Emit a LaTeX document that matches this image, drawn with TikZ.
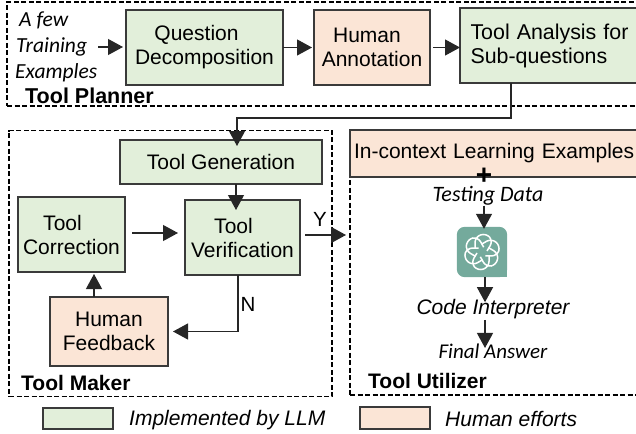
\documentclass[tikz,border=0pt]{standalone}
\usepackage{fontspec}
\setmainfont{Liberation Sans}
\newfontfamily\calib{Carlito}
\usetikzlibrary{arrows.meta}
\definecolor{llmgreen}{HTML}{E2EFDA}
\definecolor{humanorange}{HTML}{FBE5D6}
\definecolor{edgegray}{HTML}{3A3A3A}
\definecolor{logogreen}{HTML}{74AA9C}
\tikzset{
  base/.style={inner sep=0pt,outer sep=0pt,font=\fontsize{21}{24}\selectfont,align=center},
  llm/.style={base,draw=edgegray,fill=llmgreen,line width=1.2pt},
  human/.style={base,draw=edgegray,fill=humanorange,line width=1.2pt},
  region/.style={draw=black,line width=1.4pt,dash pattern=on 5pt off 2.5pt,inner sep=0pt},
  heading/.style={inner sep=0pt,font=\fontsize{21}{24}\selectfont\bfseries},
  hand/.style={inner sep=0pt,font=\calib\fontsize{21.5}{24}\selectfont\itshape},
  slant/.style={inner sep=0pt,font=\fontsize{21}{24}\selectfont\itshape},
  plain/.style={inner sep=0pt,font=\fontsize{20.5}{24}\selectfont},
  arr/.style={draw=black!85,line width=1.2pt,-{Triangle[length=15pt,width=16pt]}},
}
\begin{document}
\begin{tikzpicture}[x=1pt,y=-1pt]
\useasboundingbox (0,0) rectangle (636,433);
% regions
\node[region,minimum width=640pt,minimum height=104pt] (planner) at (327,54) {};
\node[region,minimum width=323pt,minimum height=266pt] (maker) at (170.5,263.5) {};
\node[region,minimum width=300pt,minimum height=265pt] (utilizer) at (500,262.5) {};
% boxes
\node[llm,minimum width=157pt,minimum height=75pt] (q) at (204.5,47.5) {\mbox{Question\kern16pt}\\Decomposition};
\node[human,minimum width=116pt,minimum height=75pt] (h) at (372,47.5) {\mbox{Human\kern10pt}\\Annotation};
\node[llm,minimum width=184pt,minimum height=75pt,align=left,text width=163pt] (ana) at (552,45.5) {\fontsize{21.4}{24}\selectfont Tool Analysis for\\Sub-questions};
\node[llm,minimum width=202pt,minimum height=44pt] (gen) at (221,162) {Tool Generation};
\node[llm,minimum width=107pt,minimum height=75pt] (corr) at (71.5,234.5) {\mbox{Tool\kern18pt}\\Correction};
\node[llm,minimum width=115pt,minimum height=75pt] (ver) at (242.5,237.5) {\mbox{Tool\kern18pt}\\Verification};
\node[human,minimum width=118pt,minimum height=69pt] (fb) at (109,331.5) {Human\\Feedback};
\node[human,minimum width=292pt,minimum height=47pt,align=left,text width=284pt] (ctx) at (496,153.5) {In-context Learning Examples};
% plain texts
\node[hand,anchor=west] (few) at (19,20) {A few};
\node[hand,anchor=west] (train) at (16,47) {Training};
\node[hand,anchor=west] (ex) at (15,73) {Examples};
\node[heading,anchor=west] (lp) at (25,96) {\fontsize{21.5}{24}\selectfont Tool Planner};
\node[heading,anchor=west] (lm) at (21,383) {Tool Maker};
\node[heading,anchor=west] (lu) at (368,381) {Tool Utilizer};
\node[hand,font=\calib\fontsize{22}{24}\selectfont\itshape] (test) at (488,196) {Testing Data};
\node[slant] (code) at (493,309) {Code Interpreter};
\node[hand,font=\calib\fontsize{21}{24}\selectfont\itshape] (final) at (493,351) {Final Answer};
\node[plain] (y) at (320,219) {Y};
\node[plain] (n) at (248,304) {N};
\node[inner sep=0pt,font=\fontsize{28}{28}\selectfont\bfseries] (plus) at (484,176) {+};
% logo
\node[minimum width=50pt,minimum height=50pt,inner sep=0pt] (logo) at (482,252) {};
\fill[logogreen,rounded corners=8pt] (logo.south west) rectangle (logo.north east);
\fill[logogreen] (logo.south east) rectangle ++(-12,-12);
\begin{scope}[shift={(logo.center)}]
\foreach \a in {0,60,...,300}{
  \begin{scope}[rotate=\a]
    \draw[white,line width=1.5pt,rounded corners=5.5pt] (-7,-3.5) -- (-7,-15) -- (4,-19) -- (11,-11) -- (5,-1) ;
  \end{scope}
}
\end{scope}
% connectors
\draw[arr,shorten >=3pt] ([xshift=11pt]train.east) -- (q.west |- train.east);
\draw[arr,shorten >=2pt] (q.east) -- (h.west);
\draw[arr] ([xshift=3pt]h.east) -- (h.east -| ana.west);
\draw[arr,shorten >=-6pt] ([xshift=-41pt]ana.south) -- ++(0,35) -| ([xshift=16pt]gen.north);
\draw[arr] ([xshift=15pt]gen.south) -- ++(0,26);
\draw[arr] ([xshift=7pt,yshift=1.5pt]corr.east) -- ++(46,0);
\draw[arr] ([xshift=5pt,yshift=2.5pt]ver.east) -- ++(41,0);
\draw[arr,shorten >=5pt] ([xshift=-4.5pt]ver.south) |- (fb.east);
\draw[arr] ([xshift=-15pt]fb.north) -- ++(0,-23);
\draw[arr,shorten >=-2pt] (test.south -| plus.center) -- (logo.north -| plus.center);
\draw[arr] ([xshift=3pt]logo.south) -- ++(0,25);
\draw[arr] ([xshift=-8pt,yshift=-1pt]code.south) -- ++(0,28);
% legend
\node[llm,minimum width=70pt,minimum height=21pt] (lg) at (78,418.5) {};
\node[human,minimum width=70pt,minimum height=22pt] (lh) at (395,418) {};
\node[slant,anchor=west] (tg) at (129,420) {Implemented by LLM};
\node[slant,anchor=west] (th) at (445,419) {Human efforts};
\end{tikzpicture}
\end{document}
